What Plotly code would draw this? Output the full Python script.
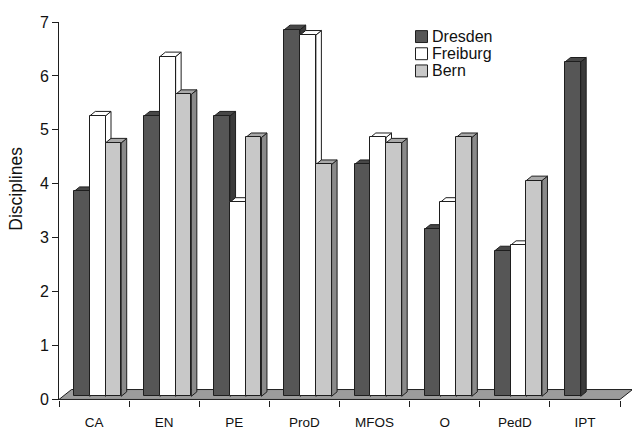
import plotly.graph_objects as go

# Disciplines per domain for the three sites
categories = ["CA", "EN", "PE", "ProD", "MFOS", "O", "PedD", "IPT"]
dresden = [3.8, 5.2, 5.2, 6.8, 4.3, 3.1, 2.7, 6.2]
freiburg = [5.2, 6.3, 3.6, 6.7, 4.8, 3.6, 2.8, None]
bern = [4.7, 5.6, 4.8, 4.3, 4.7, 4.8, 4.0, None]
series_names = ["Dresden", "Freiburg", "Bern"]
y_ticks = [0, 1, 2, 3, 4, 5, 6, 7]

series_values = [dresden, freiburg, bern]
front_colors = ["#565656", "#ffffff", "#c8c8c8"]
top_colors = ["#474747", "#ffffff", "#a9a9a9"]
side_colors = ["#3a3a3a", "#ffffff", "#8a8a8a"]
edge = "#1e1e1e"
FONT = "Liberation Sans, Arial"

# canvas / plot-area geometry (pixels)
W, H = 632, 430
ML, MR, MT, MB = 59, 0, 22, 27
plot_w = W - ML - MR
plot_h = H - MT - MB
x_range = [-0.5, 7.5 + 12 / 70.12]
y_range = [-0.01, 7.0]
px_per_x = plot_w / (x_range[1] - x_range[0])
px_per_y = plot_h / (y_range[1] - y_range[0])

# pseudo-3D geometry converted into axis units
bar_w = 15.7 / px_per_x
shift = 3.6 / px_per_x
base0 = 3.2 / px_per_y
depth_dx = 5.5 / px_per_x
depth_dy = 4.5 / px_per_y
floor_dx = 12.5 / px_per_x
floor_dy = 10.0 / px_per_y

fig = go.Figure()
shapes = []

# floor
x0, x1 = -0.5, 7.5
shapes.append(dict(
    type="path", xref="x", yref="y", layer="below",
    path=(f"M{x0},0 L{x1},0 L{x1 + floor_dx},{floor_dy} "
          f"L{x0 + floor_dx},{floor_dy} Z"),
    fillcolor="#9c9c9c", line=dict(color=edge, width=1),
))

# side and top faces, painted left to right so nearer faces overlap
for i in range(len(categories)):
    for k, vals in enumerate(series_values):
        v = vals[i]
        if v is None:
            continue
        xc = i + (k - 1) * bar_w + shift
        xl, xr = xc - bar_w / 2, xc + bar_w / 2
        top = base0 + v
        shapes.append(dict(
            type="path", xref="x", yref="y", layer="below",
            path=(f"M{xr},{base0} L{xr + depth_dx},{base0 + depth_dy} "
                  f"L{xr + depth_dx},{top + depth_dy} L{xr},{top} Z"),
            fillcolor=side_colors[k], line=dict(color=edge, width=1),
        ))
        shapes.append(dict(
            type="path", xref="x", yref="y", layer="below",
            path=(f"M{xl},{top} L{xl + depth_dx},{top + depth_dy} "
                  f"L{xr + depth_dx},{top + depth_dy} L{xr},{top} Z"),
            fillcolor=top_colors[k], line=dict(color=edge, width=1),
        ))

# front faces
for k, (name, vals) in enumerate(zip(series_names, series_values)):
    xs, ys = [], []
    for i, v in enumerate(vals):
        if v is None:
            continue
        xs.append(i + (k - 1) * bar_w + shift)
        ys.append(v)
    fig.add_trace(go.Bar(
        x=xs, y=ys, base=[base0] * len(ys), width=bar_w, name=name,
        marker=dict(color=front_colors[k], line=dict(color=edge, width=1)),
        showlegend=False, hoverinfo="skip",
    ))

# pixel -> paper helpers
def to_paper_x(px):
    return (px - ML) / plot_w

def to_paper_y(py):
    return (H - MB - py) / plot_h

annotations = []

# legend block
leg_left, leg_size = 415.5, 12
for k, name in enumerate(series_names):
    cy = 36.7 + k * 17.3
    shapes.append(dict(
        type="rect", xref="paper", yref="paper", layer="above",
        x0=to_paper_x(leg_left), x1=to_paper_x(leg_left + leg_size),
        y0=to_paper_y(cy + leg_size / 2), y1=to_paper_y(cy - leg_size / 2),
        fillcolor=front_colors[k], line=dict(color=edge, width=1),
    ))
    annotations.append(dict(
        xref="paper", yref="paper", x=to_paper_x(leg_left + leg_size + 2),
        y=to_paper_y(cy), text=name, showarrow=False,
        xanchor="left", yanchor="middle",
        font=dict(family=FONT, size=16, color="#111"),
    ))

# y-axis title
annotations.append(dict(
    xref="paper", yref="paper", x=to_paper_x(16), y=to_paper_y(190),
    text="Disciplines", textangle=-90, showarrow=False,
    xanchor="center", yanchor="middle",
    font=dict(family=FONT, size=17.5, color="#111"),
))

fig.update_layout(
    width=W, height=H,
    margin=dict(l=ML, r=MR, t=MT, b=MB),
    paper_bgcolor="white", plot_bgcolor="white",
    barmode="overlay", bargap=0,
    shapes=shapes, annotations=annotations,
    showlegend=False,
    font=dict(family=FONT, color="#111"),
)
fig.update_xaxes(
    range=x_range, showgrid=False, zeroline=False, showline=False,
    tickmode="array", tickvals=list(range(len(categories))),
    ticktext=categories, ticks="", ticklabelstandoff=12,
    tickfont=dict(size=13.5),
    minor=dict(tickmode="array",
               tickvals=[i - 0.5 for i in range(len(categories) + 1)],
               ticks="outside", ticklen=6, tickcolor=edge, tickwidth=1),
)
fig.update_yaxes(
    range=y_range, showgrid=False, zeroline=False,
    showline=True, linecolor=edge, linewidth=1,
    tickmode="array", tickvals=y_ticks,
    ticks="outside", ticklen=6, tickcolor=edge,
    tickfont=dict(size=16),
)

fig.write_html("out.html")
